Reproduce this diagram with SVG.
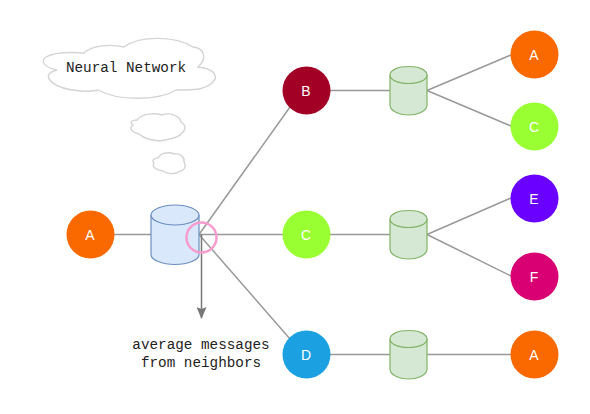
<svg xmlns="http://www.w3.org/2000/svg" width="590" height="414" viewBox="0 0 590 414">
<style>
.c{stroke:#999;stroke-width:1.5;fill:none}
.cloud{fill:#fff;stroke:#d4d4d4;stroke-width:1.4}
.n{stroke:none}
.l{font-family:"Liberation Sans",Arial,sans-serif;font-size:14px;fill:#fff;text-anchor:middle}
.m{font-family:"Liberation Mono","Courier New",monospace;font-size:14.3px;fill:#222;text-anchor:middle}
.db1{fill:#dae8fc;stroke:#6c8ebf;stroke-width:1.2}
.db2{fill:#d5e8d4;stroke:#82b366;stroke-width:1.2}
</style>
<defs>
<marker id="arr" viewBox="0 0 10 12" refX="5" refY="11" markerWidth="10" markerHeight="12" markerUnits="userSpaceOnUse" orient="0"><path d="M0 0L5 2 10 0 5 12Z" fill="#777"/></marker>
</defs>
<rect width="590" height="414" fill="#fff"/>
<g id="connectors">
<path class="c" d="M114 234.500H151"/>
<path class="c" d="M199 234.500L290 107"/>
<path class="c" d="M199 234.500H283"/>
<path class="c" d="M199 234.500L290 339"/>
<path class="c" d="M330 90.500H390"/>
<path class="c" d="M330 234.500H390"/>
<path class="c" d="M330 354.500H390"/>
<path class="c" d="M427 90.500L511 55"/>
<path class="c" d="M427 90.500L511 126"/>
<path class="c" d="M427 234.500L511 198"/>
<path class="c" d="M427 234.500L511 276"/>
<path class="c" d="M427 354.500H511"/>
<path d="M201.500 234.500V318" fill="none" stroke="#777" stroke-width="1.500" marker-end="url(#arr)"/>
</g>
<g id="cloud-main"><path class="cloud" d="M84 53C92 45 112 44 124 47C140 35 176 36 193 47C204 48 208 58 198 67C217 69 218 78 212 83C203 91 188 90 176 90C160 100 120 102 98 90C84 93 56 90 49 79C47 74 50 72 57 70C42 67 41 60 46 57C55 52 70 52 84 53Z"/><text class="m" x="126" y="71.500">Neural Network</text></g>
<g id="cloud-mid"><path class="cloud" d="M137 120C142 113 156 113 162 115C170 112 180 116 181 122C186 125 186 130 182 133C178 139 168 139 160 141C152 140 144 139 139 134C131 132 129 128 133 125C129 122 132 120 137 120Z"/></g>
<g id="cloud-small"><path class="cloud" d="M158 158C161 152 170 152 174 154C181 153 185 158 184 162C187 166 184 171 180 171C175 175 167 174 163 171C157 170 151 167 154 163C151 160 155 158 158 158Z"/></g>
<g id="db-main">
<path class="db1" d="M151 215V254.500C151 260 162 264.500 175 264.500S199 260 199 254.500V215C199 209.500 188 205 175 205S151 209.500 151 215Z"/>
<path class="db1" fill="none" d="M151 215C151 220.500 162 225 175 225S199 220.500 199 215"/>
</g>
<g id="db-b">
<path class="db2" d="M390 75V105C390 110.500 398 115 408.500 115S427 110.500 427 105V75C427 70 419 66.500 408.500 66.500S390 70 390 75Z"/>
<path class="db2" d="M390 75C390 80 398 83.500 408.500 83.500S427 80 427 75"/>
</g>
<g id="db-c">
<path class="db2" d="M390 219V249C390 254.500 398 259 408.500 259S427 254.500 427 249V219C427 214 419 210.500 408.500 210.500S390 214 390 219Z"/>
<path class="db2" d="M390 219C390 224 398 227.500 408.500 227.500S427 224 427 219"/>
</g>
<g id="db-d">
<path class="db2" d="M390 339V369C390 374.500 398 379 408.500 379S427 374.500 427 369V339C427 334 419 330.500 408.500 330.500S390 334 390 339Z"/>
<path class="db2" d="M390 339C390 344 398 347.500 408.500 347.500S427 344 427 339"/>
</g>
<g id="ring"><circle cx="201.500" cy="237.500" r="15" fill="none" stroke="#f79ccf" stroke-width="2.500"/></g>
<g id="node-a-root"><circle class="n" cx="90.500" cy="234.500" r="24" fill="#fa6800"/><text class="l" x="90" y="239.500">A</text></g>
<g id="node-b"><circle class="n" cx="306.500" cy="90.500" r="24" fill="#a20025"/><text class="l" x="306" y="95.500">B</text></g>
<g id="node-c"><circle class="n" cx="306.500" cy="234.500" r="24" fill="#99ff33"/><text class="l" x="306" y="239.500">C</text></g>
<g id="node-d"><circle class="n" cx="306.500" cy="354.500" r="24" fill="#1ba1e2"/><text class="l" x="306" y="359.500">D</text></g>
<g id="node-a1"><circle class="n" cx="534.500" cy="54.500" r="24" fill="#fa6800"/><text class="l" x="534" y="59.500">A</text></g>
<g id="node-c1"><circle class="n" cx="534.500" cy="126.500" r="24" fill="#99ff33"/><text class="l" x="534" y="131.500">C</text></g>
<g id="node-e"><circle class="n" cx="534.500" cy="198.500" r="24" fill="#6a00ff"/><text class="l" x="534" y="203.500">E</text></g>
<g id="node-f"><circle class="n" cx="534.500" cy="276.500" r="24" fill="#d80073"/><text class="l" x="534" y="281.500">F</text></g>
<g id="node-a2"><circle class="n" cx="534.500" cy="354.500" r="24" fill="#fa6800"/><text class="l" x="534" y="359.500">A</text></g>
<g id="caption"><text class="m" x="201" y="348.500">average messages</text><text class="m" x="201" y="366.500">from neighbors</text></g>
</svg>
